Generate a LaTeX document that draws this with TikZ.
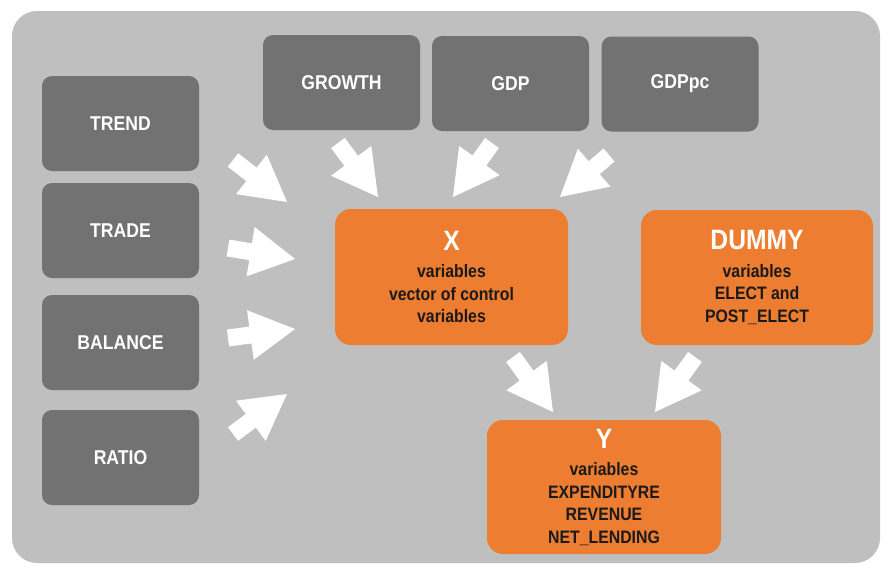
\documentclass[tikz,border=0pt]{standalone}
\usepackage{fontspec}
\setmainfont{Liberation Sans}[FakeStretch=0.88]
\usetikzlibrary{calc}
\definecolor{panel}{RGB}{191,191,191}
\definecolor{boxgray}{RGB}{114,114,114}
\definecolor{boxorange}{RGB}{237,125,49}
\definecolor{ink}{RGB}{26,26,26}
\newcommand\blockarrow[2]{%
  \coordinate (hb) at ($(#2)!45pt!(#1)$);
  \fill[white] ($(#1)!8.5pt!90:(#2)$) -- ($(hb)!8.5pt!90:(#2)$) -- ($(hb)!25pt!90:(#2)$) -- (#2)
     -- ($(hb)!25pt!-90:(#2)$) -- ($(hb)!8.5pt!-90:(#2)$) -- ($(#1)!8.5pt!-90:(#2)$) -- cycle;}
\tikzset{
  graybox/.style={rectangle, rounded corners=10pt, fill=boxgray, text=white,
    font=\bfseries\fontsize{20}{24}\selectfont, minimum width=157pt, minimum height=95pt, inner sep=0pt},
  orangebox/.style={rectangle, rounded corners=16pt, fill=boxorange, text=ink,
    font=\bfseries\fontsize{18}{22.5}\selectfont, align=center, inner sep=0pt},
  titletext/.style={}
}
\newcommand\boxtitle[1]{{\fontsize{28}{28}\selectfont\color{white}#1}}
\begin{document}
\begin{tikzpicture}[x=1pt,y=-1pt]
\useasboundingbox (0,0) rectangle (883,565);
\fill[white] (0,0) rectangle (883,565);
\fill[panel, rounded corners=25pt] (12,11) rectangle (880,563);

% left column
\node[graybox] (trend)   at (120.5,123.5) {TREND};
\node[graybox] (trade)   at (120.5,230.5) {TRADE};
\node[graybox] (balance) at (120.5,342.5) {BALANCE};
\node[graybox] (ratio)   at (120.5,457.5) {RATIO};
% top row
\node[graybox] (growth) at (341.5,82.5) {GROWTH};
\node[graybox] (gdp)    at (510.5,83.5) {GDP};
\node[graybox] (gdppc)  at (680,84)     {GDPpc};
% orange boxes
\node[orangebox, minimum width=233pt, minimum height=136pt] (xbox) at (451.5,277)
  {\boxtitle{X}\\[5pt]variables\\vector of control\\variables};
\node[orangebox, minimum width=232pt, minimum height=135pt] (dummy) at (757,277.5)
  {\boxtitle{DUMMY}\\[5pt]variables\\ELECT and\\POST\_ELECT};
\node[orangebox, minimum width=234pt, minimum height=134pt] (ybox) at (604,487)
  {\boxtitle{Y}\\[5pt]variables\\EXPENDITYRE\\REVENUE\\NET\_LENDING};

% arrows
\coordinate (a1t) at (233,160); \coordinate (a1h) at (287,202);
\coordinate (a2t) at (228,248); \coordinate (a2h) at (295,259);
\coordinate (a3t) at (228,338); \coordinate (a3h) at (295,329);
\coordinate (a4t) at (233,434); \coordinate (a4h) at (287,394);
\coordinate (a5t) at (338,143); \coordinate (a5h) at (378,197);
\coordinate (a6t) at (492,143); \coordinate (a6h) at (453,197);
\coordinate (a7t) at (609,155); \coordinate (a7h) at (560,197);
\coordinate (a8t) at (513,357); \coordinate (a8h) at (553,412);
\coordinate (a9t) at (695,357); \coordinate (a9h) at (655,412);
\blockarrow{a1t}{a1h}
\blockarrow{a2t}{a2h}
\blockarrow{a3t}{a3h}
\blockarrow{a4t}{a4h}
\blockarrow{a5t}{a5h}
\blockarrow{a6t}{a6h}
\blockarrow{a7t}{a7h}
\blockarrow{a8t}{a8h}
\blockarrow{a9t}{a9h}
\end{tikzpicture}
\end{document}
